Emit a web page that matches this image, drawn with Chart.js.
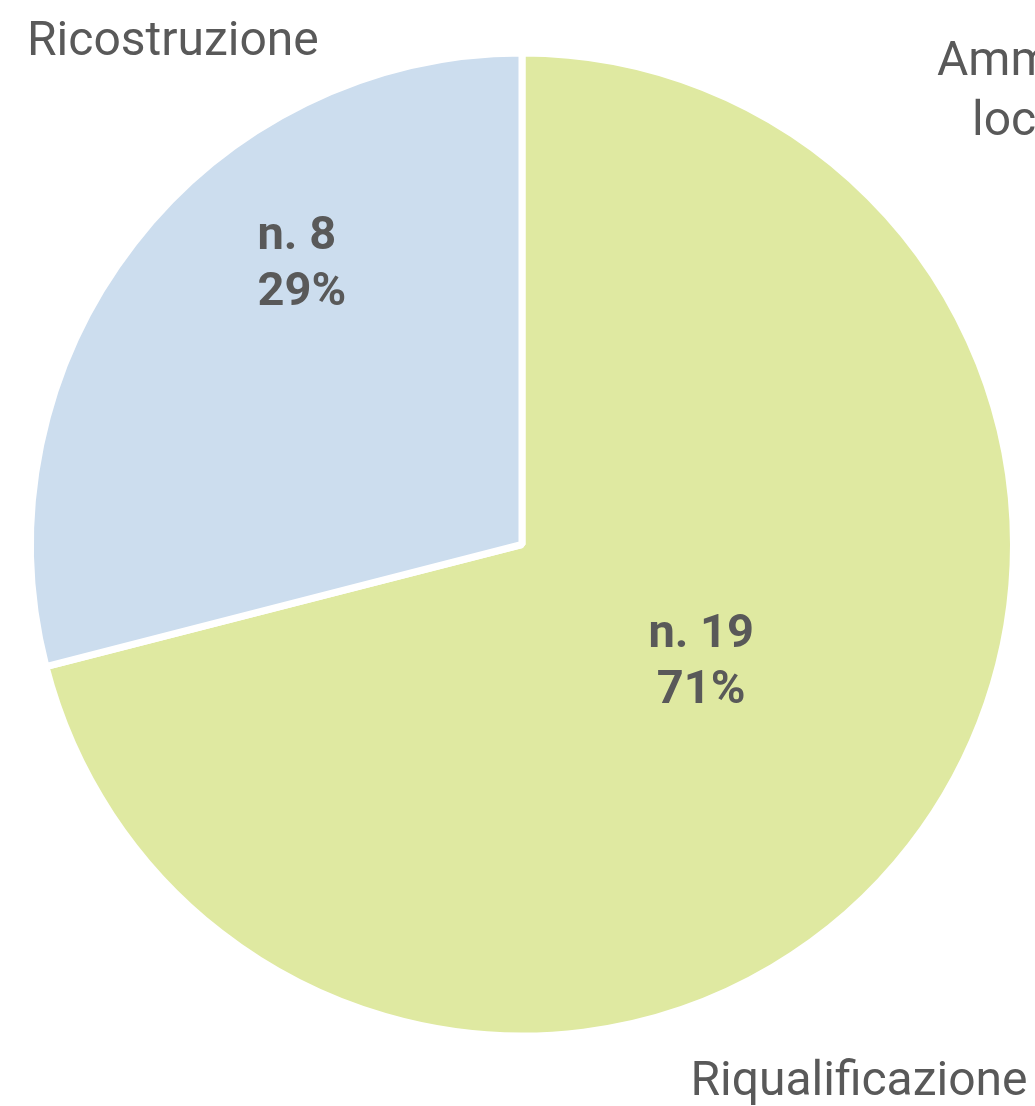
<!DOCTYPE html>
<html>
<head>
<meta charset="utf-8">
<script src="https://cdn.jsdelivr.net/npm/chart.js@4/dist/chart.umd.min.js"></script>
<style>
  html, body { margin: 0; padding: 0; background: #ffffff; }
  #wrap { width: 1035px; height: 1106px; position: relative; }
</style>
</head>
<body>
<div id="wrap"><canvas id="c" width="1035" height="1106"></canvas></div>
<script>
// ---- data ----
const categories = ["Riqualificazione", "Ricostruzione", "Amministrazioni locali"];
const categoryLines = [["Riqualificazione"], ["Ricostruzione"], ["Amministrazioni", "locali"]];
const counts = [19, 8, 0];
const percents = [71, 29, 0];
const valueLabels = ["n. 19\n71%", "n. 8\n29%", ""];
const colors = ["#dfe9a1", "#ccddee", "#f4b183"];

const textColor = "#595959";
const fontFamily = "Roboto, 'DejaVu Sans', sans-serif";

// plugin: draws value labels inside slices and category labels outside
const labelPlugin = {
  id: 'pieLabels',
  afterDatasetsDraw(chart, args, opts) {
    const ctx = chart.ctx;
    const meta = chart.getDatasetMeta(0);
    const arc0 = meta.data[0];
    const cx = arc0.x, cy = arc0.y, R = arc0.outerRadius;
    ctx.save();
    ctx.fillStyle = textColor;
    ctx.textBaseline = 'alphabetic';
    // inner value labels (polar placement relative to pie centre)
    meta.data.forEach((arc, i) => {
      if (!counts[i]) return;
      const p = opts.inner[i];
      const ang = p.angle * Math.PI / 180; // clockwise from top
      const x = cx + Math.sin(ang) * p.r * R;
      const y = cy - Math.cos(ang) * p.r * R;
      ctx.font = "bold 47px " + fontFamily;
      ctx.textAlign = p.align;
      const lines = valueLabels[i].split("\n");
      lines.forEach((ln, k) => {
        ctx.fillText(ln, x, y + (k - (lines.length - 1) / 2) * 56 + 16);
      });
    });
    // outer category labels
    ctx.font = "48px " + fontFamily;
    categoryLines.forEach((lines, i) => {
      const p = opts.outer[i];
      ctx.textAlign = p.align;
      lines.forEach((ln, k) => {
        ctx.fillText(ln, p.x[k], p.y + k * 60);
      });
    });
    ctx.restore();
  }
};

new Chart(document.getElementById('c'), {
  type: 'pie',
  data: {
    labels: categories,
    datasets: [{
      data: percents,
      backgroundColor: colors,
      borderColor: '#ffffff',
      borderWidth: 7,
      hoverOffset: 0
    }]
  },
  options: {
    responsive: false,
    animation: false,
    layout: { padding: { left: 27, right: 18, top: 49, bottom: 66 } },
    plugins: {
      legend: { display: false },
      tooltip: { enabled: false },
      title: { display: false },
      pieLabels: {
        inner: [
          { angle: 122.65, r: 0.433, align: 'center' },
          { angle: 317.0, r: 0.789, align: 'left' },
          { angle: 0, r: 0, align: 'center' }
        ],
        outer: [
          { align: 'center', x: [859], y: 1095 },
          { align: 'left', x: [27], y: 55 },
          { align: 'left', x: [937, 972], y: 75 }
        ]
      }
    }
  },
  plugins: [labelPlugin]
});
</script>
</body>
</html>
